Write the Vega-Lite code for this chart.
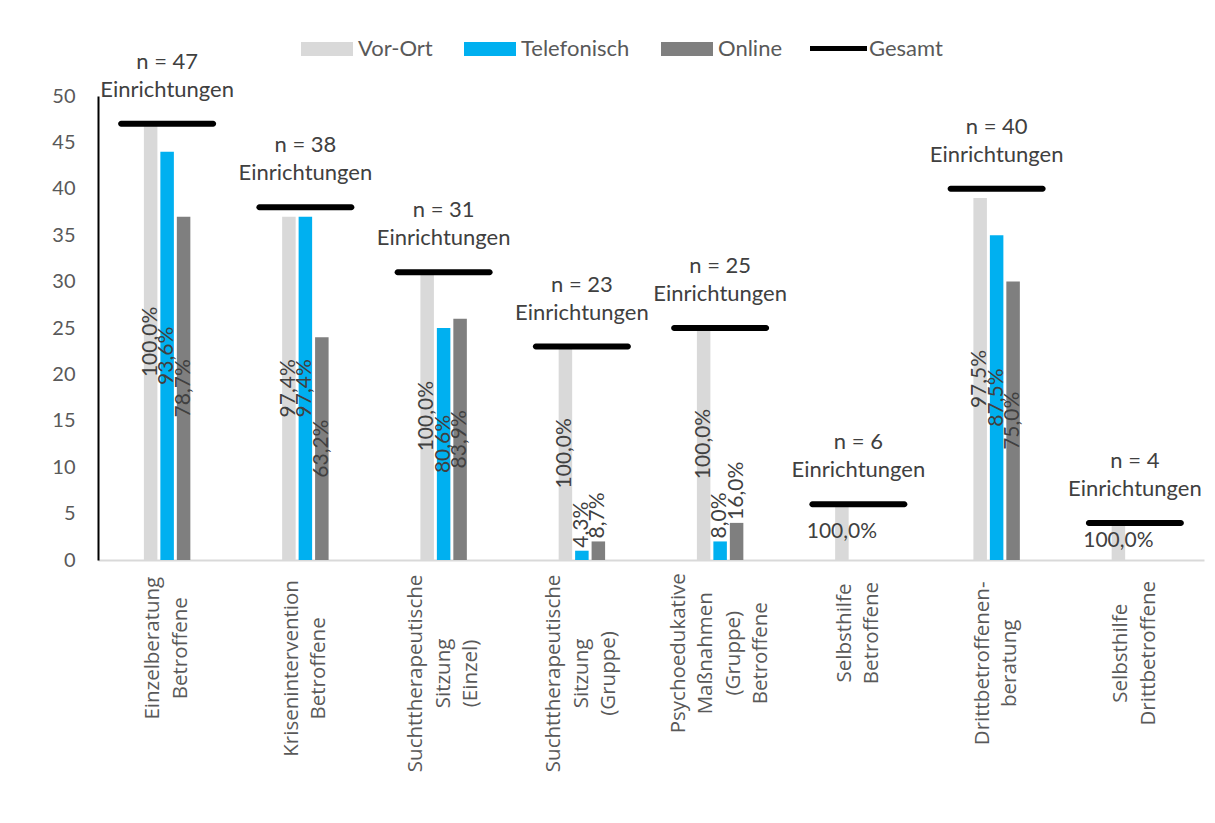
{
  "$schema": "https://vega.github.io/schema/vega-lite/v6.json",
  "width": 1106,
  "height": 464,
  "autosize": {"type": "none"},
  "padding": {"left": 98, "top": 96, "right": 11, "bottom": 263},
  "background": "white",
  "config": {"view": {"stroke": null}, "font": "Lato"},
  "datasets": {
    "bars": [
      {"cat": "Einzelberatung Betroffene", "series": "Vor-Ort", "value": 47, "pct": "100,0%"},
      {"cat": "Einzelberatung Betroffene", "series": "Telefonisch", "value": 44, "pct": "93,6%"},
      {"cat": "Einzelberatung Betroffene", "series": "Online", "value": 37, "pct": "78,7%"},
      {"cat": "Krisenintervention Betroffene", "series": "Vor-Ort", "value": 37, "pct": "97,4%"},
      {"cat": "Krisenintervention Betroffene", "series": "Telefonisch", "value": 37, "pct": "97,4%"},
      {"cat": "Krisenintervention Betroffene", "series": "Online", "value": 24, "pct": "63,2%"},
      {"cat": "Suchttherapeutische Sitzung (Einzel)", "series": "Vor-Ort", "value": 31, "pct": "100,0%"},
      {"cat": "Suchttherapeutische Sitzung (Einzel)", "series": "Telefonisch", "value": 25, "pct": "80,6%"},
      {"cat": "Suchttherapeutische Sitzung (Einzel)", "series": "Online", "value": 26, "pct": "83,9%"},
      {"cat": "Suchttherapeutische Sitzung (Gruppe)", "series": "Vor-Ort", "value": 23, "pct": "100,0%"},
      {"cat": "Suchttherapeutische Sitzung (Gruppe)", "series": "Telefonisch", "value": 1, "pct": "4,3%"},
      {"cat": "Suchttherapeutische Sitzung (Gruppe)", "series": "Online", "value": 2, "pct": "8,7%"},
      {"cat": "Psychoedukative Maßnahmen (Gruppe) Betroffene", "series": "Vor-Ort", "value": 25, "pct": "100,0%"},
      {"cat": "Psychoedukative Maßnahmen (Gruppe) Betroffene", "series": "Telefonisch", "value": 2, "pct": "8,0%"},
      {"cat": "Psychoedukative Maßnahmen (Gruppe) Betroffene", "series": "Online", "value": 4, "pct": "16,0%"},
      {"cat": "Selbsthilfe Betroffene", "series": "Vor-Ort", "value": 6, "pct": "100,0%"},
      {"cat": "Drittbetroffenen-beratung", "series": "Vor-Ort", "value": 39, "pct": "97,5%"},
      {"cat": "Drittbetroffenen-beratung", "series": "Telefonisch", "value": 35, "pct": "87,5%"},
      {"cat": "Drittbetroffenen-beratung", "series": "Online", "value": 30, "pct": "75,0%"},
      {"cat": "Selbsthilfe Drittbetroffene", "series": "Vor-Ort", "value": 4, "pct": "100,0%"}
    ],
    "totals": [
      {"cat": "Einzelberatung Betroffene", "series": "Gesamt", "n": 47},
      {"cat": "Krisenintervention Betroffene", "series": "Gesamt", "n": 38},
      {"cat": "Suchttherapeutische Sitzung (Einzel)", "series": "Gesamt", "n": 31},
      {"cat": "Suchttherapeutische Sitzung (Gruppe)", "series": "Gesamt", "n": 23},
      {"cat": "Psychoedukative Maßnahmen (Gruppe) Betroffene", "series": "Gesamt", "n": 25},
      {"cat": "Selbsthilfe Betroffene", "series": "Gesamt", "n": 6},
      {"cat": "Drittbetroffenen-beratung", "series": "Gesamt", "n": 40},
      {"cat": "Selbsthilfe Drittbetroffene", "series": "Gesamt", "n": 4}
    ]
  },
  "layer": [
    {
      "data": {"name": "bars"},
      "mark": {"type": "bar", "opacity": 1},
      "encoding": {
        "x": {
          "field": "cat", "type": "nominal", "title": null,
          "scale": {
            "domain": ["Einzelberatung Betroffene", "Krisenintervention Betroffene", "Suchttherapeutische Sitzung (Einzel)", "Suchttherapeutische Sitzung (Gruppe)", "Psychoedukative Maßnahmen (Gruppe) Betroffene", "Selbsthilfe Betroffene", "Drittbetroffenen-beratung", "Selbsthilfe Drittbetroffene"],
            "paddingInner": 0.664, "paddingOuter": 0.332
          },
          "axis": {
            "title": null, "ticks": false, "domainColor": "#d9d9d9", "domainWidth": 2,
            "labelAngle": 270, "labelAlign": "center", "labelFont": "Open Sans", "labelFontSize": 20.5, "labelColor": "#595959",
            "labelLineHeight": 27.5, "labelLimit": 0,
            "labelExpr": "split(replace(datum.value, '-', '- '), ' ')",
            "labelOffset": {"expr": "-(length(split(replace(datum.value, '-', '- '), ' ')) - 1) * 13.75"},
            "labelPadding": {"expr": "17 + 5.05 * max(length(split(replace(datum.value, '-', '- '), ' ')[0]), length(split(replace(datum.value, '-', '- '), ' ')[1] || ''), length(split(replace(datum.value, '-', '- '), ' ')[2] || ''), length(split(replace(datum.value, '-', '- '), ' ')[3] || ''))"}
          }
        },
        "xOffset": {"field": "series", "type": "nominal", "sort": ["Vor-Ort", "Telefonisch", "Online"], "scale": {"domain": ["Vor-Ort", "Telefonisch", "Online"], "paddingInner": 0.18, "paddingOuter": 0}},
        "y": {
          "field": "value", "type": "quantitative", "title": null,
          "scale": {"domain": [0, 50], "nice": false},
          "axis": {
            "title": null, "values": [0, 5, 10, 15, 20, 25, 30, 35, 40, 45, 50], "ticks": false, "grid": false,
            "domainColor": "#000000", "domainWidth": 2,
            "labelFont": "Lato", "labelFontSize": 20, "labelColor": "#595959", "labelPadding": 23
          }
        },
        "color": {
          "field": "series", "type": "nominal",
          "scale": {"domain": ["Vor-Ort", "Telefonisch", "Online"], "range": ["#d9d9d9", "#00b0f0", "#7f7f7f"]},
          "legend": {
            "orient": "none", "legendX": 203, "legendY": -73, "direction": "horizontal", "title": null,
            "symbolType": "M-1,-0.27H1V0.27H-1Z", "symbolSize": 2704, "symbolStrokeWidth": 0,
            "labelFont": "Lato", "labelFontSize": 22, "labelColor": "#595959", "labelOffset": 5, "columnPadding": 31
          }
        }
      }
    },
    {
      "data": {"name": "totals"},
      "mark": {"type": "tick", "size": 98, "thickness": 6, "cornerRadius": 3, "opacity": 1, "orient": "horizontal"},
      "encoding": {
        "x": {"field": "cat", "type": "nominal", "title": null},
        "y": {"field": "n", "type": "quantitative", "title": null},
        "fill": {
          "field": "series", "type": "nominal",
          "scale": {"domain": ["Gesamt"], "range": ["#000000"]},
          "legend": {
            "orient": "none", "legendX": 712, "legendY": -76, "direction": "horizontal", "title": null,
            "symbolType": "M-1,-0.09H1V0.09H-1Z", "symbolSize": 3249, "symbolStrokeWidth": 0,
            "labelFont": "Lato", "labelFontSize": 22, "labelColor": "#595959", "labelOffset": 2
          }
        }
      }
    },
    {
      "data": {"name": "bars"},
      "transform": [{"filter": "datum.value > 6"}, {"calculate": "datum.value / 2", "as": "mid"}],
      "mark": {"type": "text", "angle": 270, "align": "center", "baseline": "middle", "font": "Lato", "fontSize": 21, "color": "#404040"},
      "encoding": {
        "x": {"field": "cat", "type": "nominal", "title": null},
        "xOffset": {"field": "series", "type": "nominal"},
        "y": {"field": "mid", "type": "quantitative", "title": null},
        "text": {"field": "pct", "type": "nominal"}
      }
    },
    {
      "data": {"name": "bars"},
      "transform": [{"filter": "datum.value <= 6 && datum.series !== 'Vor-Ort'"}],
      "mark": {"type": "text", "angle": 270, "align": "left", "baseline": "middle", "dx": 3, "font": "Lato", "fontSize": 21, "color": "#404040"},
      "encoding": {
        "x": {"field": "cat", "type": "nominal", "title": null},
        "xOffset": {"field": "series", "type": "nominal"},
        "y": {"field": "value", "type": "quantitative", "title": null},
        "text": {"field": "pct", "type": "nominal"}
      }
    },
    {
      "data": {"name": "bars"},
      "transform": [{"filter": "datum.value <= 6 && datum.series === 'Vor-Ort'"}, {"calculate": "datum.value / 2", "as": "mid"}],
      "mark": {"type": "text", "align": "center", "baseline": "middle", "font": "Lato", "fontSize": 21, "color": "#404040"},
      "encoding": {
        "x": {"field": "cat", "type": "nominal", "title": null},
        "xOffset": {"field": "series", "type": "nominal"},
        "y": {"field": "mid", "type": "quantitative", "title": null},
        "text": {"field": "pct", "type": "nominal"}
      }
    },
    {
      "data": {"name": "totals"},
      "transform": [{"calculate": "['n = ' + datum.n, 'Einrichtungen']", "as": "lbl"}],
      "mark": {"type": "text", "align": "center", "baseline": "bottom", "dy": -50, "lineHeight": 28, "font": "Lato", "fontSize": 22, "color": "#404040"},
      "encoding": {
        "x": {"field": "cat", "type": "nominal", "title": null},
        "y": {"field": "n", "type": "quantitative", "title": null},
        "text": {"field": "lbl", "type": "nominal"}
      }
    }
  ]
}
